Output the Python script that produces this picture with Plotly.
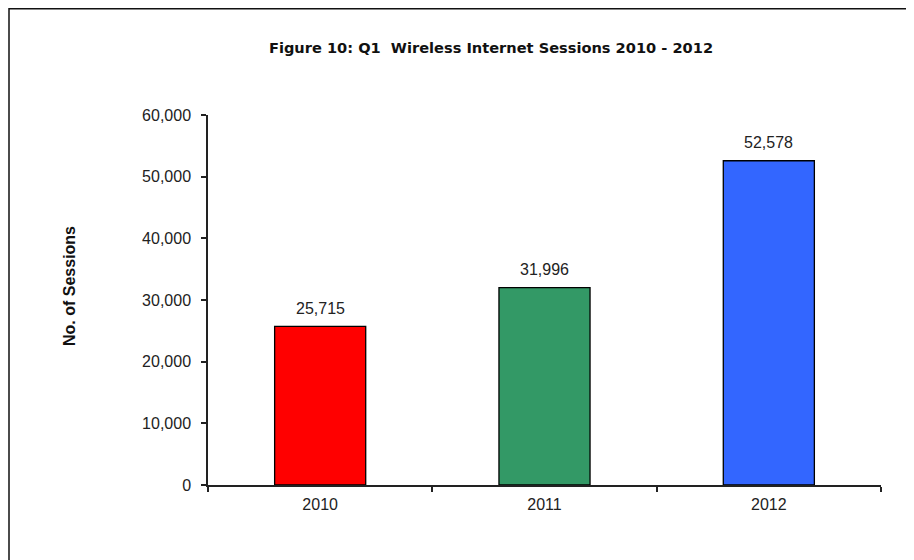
import plotly.graph_objects as go

years = ["2010", "2011", "2012"]
sessions = [25715, 31996, 52578]
bar_colors = ["#FF0000", "#339966", "#3366FF"]
y_ticks = [0, 10000, 20000, 30000, 40000, 50000, 60000]

# page has an 8px body offset; figure fills the rest of the window
W, H = 906, 552
L, R, T, B = 200, 33, 107, 75
pw, ph = W - L - R, H - T - B

fig = go.Figure()
fig.add_trace(go.Bar(
    x=years, y=sessions,
    marker=dict(color=bar_colors, line=dict(color="#000000", width=1.3)),
    width=0.406,
    hoverinfo="skip",
))

axis_font = dict(family="Liberation Sans, Arial", size=16, color="#222222")

value_labels = [dict(
    x=i, y=v, xref="x", yref="y", text=f"{v:,}", showarrow=False,
    yanchor="middle", xanchor="center", yshift=18,
    font=axis_font,
) for i, v in enumerate(sessions)]

fig.update_layout(
    width=W, height=H,
    margin=dict(l=L, r=R, t=T, b=B, autoexpand=False),
    paper_bgcolor="white", plot_bgcolor="white",
    showlegend=False,
    title=dict(
        text="Figure 10: Q1  Wireless Internet Sessions 2010 - 2012",
        x=483 / W, xref="container", xanchor="center",
        y=1 - 40 / H, yref="container", yanchor="middle",
        font=dict(family="DejaVu Sans", size=14.6, color="#111111", weight="bold"),
    ),
    xaxis=dict(
        type="category",
        range=[-0.5, 2.5], showline=True, linecolor="#222222", linewidth=1.5,
        ticks="outside", ticklen=5, tickwidth=1.5, tickcolor="#222222",
        tickson="boundaries", showgrid=False, tickfont=axis_font,
        ticklabelstandoff=4,
    ),
    yaxis=dict(
        range=[0, 60000], tickvals=y_ticks,
        ticktext=[f"{v:,}" for v in y_ticks],
        showline=True, linecolor="#222222", linewidth=1.5,
        ticks="outside", ticklen=5, tickwidth=1.5, tickcolor="#222222",
        showgrid=False, zeroline=False, tickfont=axis_font,
        ticklabelstandoff=7,
    ),
    annotations=value_labels + [dict(
        text="<b>No. of Sessions</b>", textangle=-90,
        xref="paper", yref="paper",
        x=(61 - L) / pw, y=(H - B - 278) / ph,
        xanchor="center", yanchor="middle", showarrow=False,
        font=dict(family="Liberation Sans, Arial", size=16, color="#111111"),
    )],
    shapes=[dict(
        type="rect", xref="paper", yref="paper",
        x0=(1 - L) / pw, x1=(W + 10 - L) / pw,
        y0=(H - B - (H + 10)) / ph, y1=(H - B - 0.8) / ph,
        line=dict(color="#111111", width=1.5), fillcolor="rgba(0,0,0,0)",
        layer="below",
    )],
)

fig.write_html("out.html")
